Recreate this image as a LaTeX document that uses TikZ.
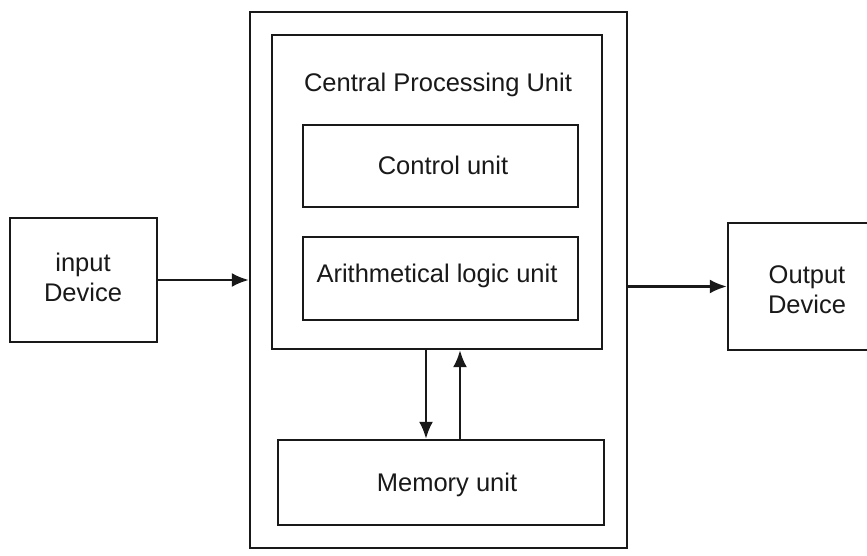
\documentclass[tikz,border=0pt]{standalone}
\usepackage{fontspec}
\setmainfont{Liberation Sans}
\usetikzlibrary{arrows.meta}
\begin{document}
\begin{tikzpicture}[x=1pt,y=1pt,
  box/.style={draw=black!90, line width=2.4pt, inner sep=0pt},
  lbl/.style={font=\fontsize{25.5}{30}\selectfont, align=center, text=black!90},
  arr/.style={draw=black!90, line width=2.4pt, -{Latex[length=17pt,width=14pt]}}]
  \useasboundingbox (0,0) rectangle (867,-556);
  \clip (0,0) rectangle (867,-556);
  \fill[white] (0,0) rectangle (867,-556);

  % computer system
  \node[box, minimum width=377pt, minimum height=536pt] (outer) at (438.5,-280) {};
  \node[box, minimum width=330pt, minimum height=314pt] (cpu) at (437,-192) {};
  \node[lbl] (cputitle) at (438,-85) {Central Processing Unit};
  \node[box, minimum width=275pt, minimum height=82pt] (cu) at (440.5,-166) {};
  \node[lbl] (cutext) at (443,-165) {Control unit};
  \node[box, minimum width=275pt, minimum height=83pt] (alu) at (440.5,-278.5) {};
  \node[lbl] (alutext) at (437,-276) {Arithmetical logic unit};
  \node[box, minimum width=326pt, minimum height=85pt] (mem) at (441,-482.5) {};
  \node[lbl] (memtext) at (447,-485) {Memory unit};

  % peripherals
  \node[box, minimum width=147pt, minimum height=124pt] (inp) at (83.5,-280) {};
  \node[lbl] (inptext) at (83,-277) {input\\Device};
  \node[box, minimum width=160pt, minimum height=127pt] (out) at (808,-286.5) {};
  \node[lbl] (outtext) at (807,-290) {Output\\Device};

  % data flow
  \draw[arr] (inp.east) -- (inp.east -| outer.west);
  \draw[arr] (out.west -| outer.east) -- (out.west);
  \draw[arr] ([xshift=-11pt]cpu.south) -- ([xshift=-11pt]cpu.south |- mem.north);
  \draw[arr] ([xshift=23pt]cpu.south |- mem.north) -- ([xshift=23pt]cpu.south);
\end{tikzpicture}
\end{document}
